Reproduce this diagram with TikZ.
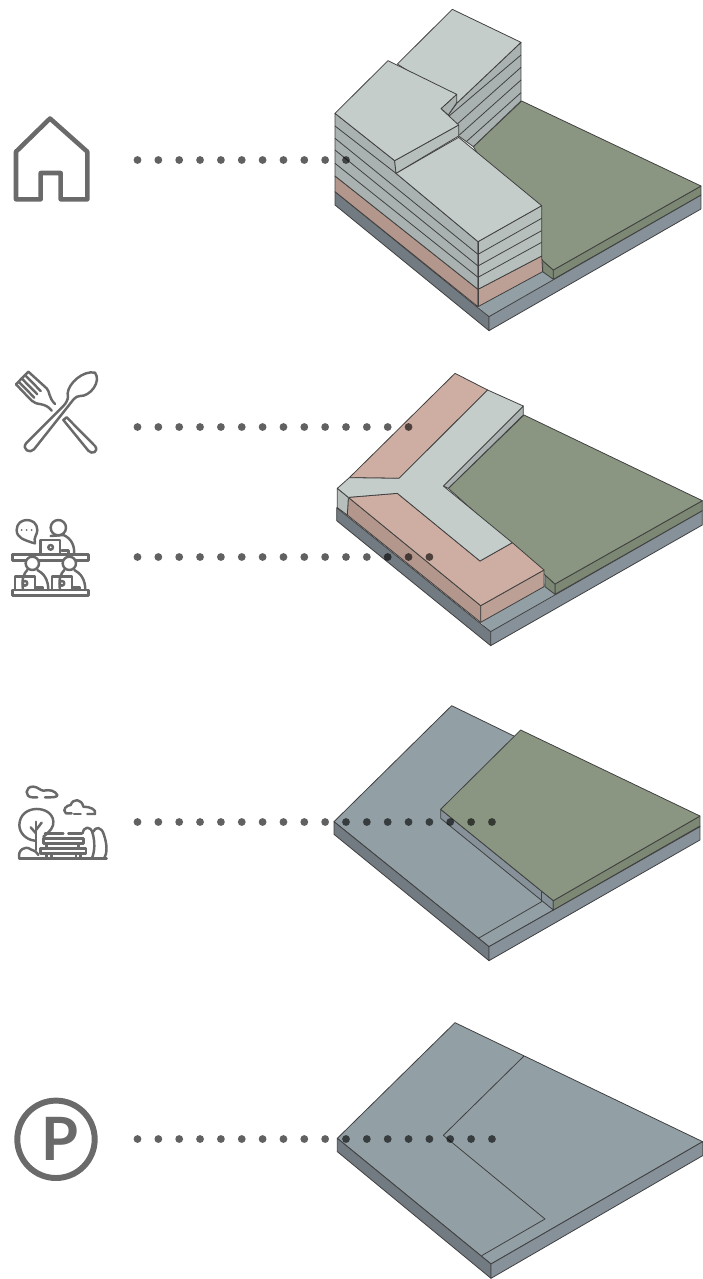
\documentclass[tikz,border=0pt]{standalone}
\usepackage{fontspec}
\setsansfont{Lato}
\definecolor{slabtop}{HTML}{C5CDCB}
\definecolor{slableft}{HTML}{A9B2B0}
\definecolor{slabright}{HTML}{B7BFBC}
\definecolor{shoptop}{HTML}{CEADA2}
\definecolor{shopleft}{HTML}{B4978C}
\definecolor{shopright}{HTML}{BC9F95}
\definecolor{parktop}{HTML}{8A9681}
\definecolor{parkside}{HTML}{7C8873}
\definecolor{basetop}{HTML}{929FA5}
\definecolor{baseleft}{HTML}{727A82}
\definecolor{baseright}{HTML}{86919A}
\definecolor{iconline}{HTML}{6A6A6A}
\tikzset{
    zoomed/.style={x=0.02cm/3,y=-0.02cm/3},
    edge/.style={draw=black!75,line width=0.45pt,line join=round},
    icon/.style={draw=iconline,line width=1.4pt,line join=round,line cap=round},
}
\begin{document}
\begin{tikzpicture}[x=0.02cm,y=-0.02cm]
    \useasboundingbox (0,0) rectangle (703,1279);

    % Bloque completo: base, parque, torre y pisos apilados.
    \begin{scope}[shift={(320,0)},zoomed]
        \fill[basetop] (474,920) -- (507,950) -- (700,838) -- (668,790) -- cycle;
        \draw[edge,fill=baseleft] (45,575) -- (507,950) -- (507,992) -- (45,615) -- cycle;
        \draw[edge,fill=baseright] (507,950) -- (1143,585) -- (1143,627) -- (507,992) -- cycle;
        \draw[edge,fill=parkside] (700,810) -- (1143,558) -- (1143,585) -- (700,838) -- cycle;
        \draw[edge,fill=parkside] (668,782) -- (700,810) -- (700,838) -- (668,815) -- cycle;
        \draw[edge,fill=parktop] (605,303) -- (1143,558) -- (700,810) -- (668,782) -- (460,440) -- cycle;
        % torre trasera
        \draw[edge,fill=slableft] (603,127) -- (603,303) -- (460,440) -- (416,408) -- (385,345) -- (412,308) -- cycle;
        \draw[edge] (603,165) -- (385,350);
        \draw[edge] (603,202) -- (412,372);
        \draw[edge] (603,240) -- (418,405);
        \draw[edge] (603,278) -- (440,424);
        \draw[edge,fill=slabtop] (397,28) -- (603,127) -- (412,308) -- (232,192) -- cycle;
        % pisos delanteros
        \draw[edge,fill=shopleft] (45,528) -- (474,868) -- (474,920) -- (45,575) -- cycle;
        \draw[edge,fill=shopright] (474,868) -- (665,768) -- (668,815) -- (474,920) -- cycle;
        \draw[edge,fill=slableft] (45,340) -- (224,482) -- (228,520) -- (474,725) -- (474,868) -- (45,528) -- cycle;
        \draw[edge,fill=slabright] (474,725) -- (665,617) -- (665,768) -- (474,868) -- cycle;
        \draw[edge] (45,378) -- (228,520);
        \foreach \ya/\yb/\yc in {415/763/655,450/798/692,490/832/727}{
            \draw[edge] (45,\ya) -- (474,\yb) -- (665,\yc);
        }
        \draw[edge] (474,725) -- (474,920);
        \draw[edge,fill=slabtop] (416,412) -- (665,617) -- (474,725) -- (228,520) -- cycle;
        % bloque superior con su muesca
        \draw[edge,fill=slabright] (224,482) -- (416,375) -- (416,408) -- (228,520) -- cycle;
        \draw[edge,fill=slableft] (363,326) -- (410,283) -- (410,308) -- (385,345) -- cycle;
        \draw[edge,fill=slabtop] (204,182) -- (410,283) -- (363,326) -- (416,375) -- (224,482) -- (45,340) -- cycle;
    \end{scope}

    % Planta baja: comercio y circulacion en Y.
    \begin{scope}[shift={(320,360)},zoomed]
        \fill[basetop] (482,787) -- (512,815) -- (705,703) -- (672,670) -- cycle;
        \draw[edge,fill=baseleft] (50,443) -- (512,815) -- (512,857) -- (50,482) -- cycle;
        \draw[edge,fill=baseright] (512,815) -- (1147,452) -- (1147,495) -- (512,857) -- cycle;
        \draw[edge,fill=parkside] (705,672) -- (1147,422) -- (1147,452) -- (705,703) -- cycle;
        \draw[edge,fill=parkside] (675,645) -- (705,672) -- (705,703) -- (675,680) -- cycle;
        \draw[edge,fill=parktop] (612,165) -- (1147,422) -- (705,672) -- (675,645) -- (385,385) -- cycle;
        \draw[edge,fill=slableft] (610,138) -- (610,165) -- (385,385) -- (370,378) -- cycle;
        \draw[edge,fill=shopleft] (85,412) -- (482,737) -- (482,787) -- (82,465) -- cycle;
        \draw[edge,fill=shopright] (482,737) -- (672,630) -- (672,680) -- (482,787) -- cycle;
        \draw[edge,fill=slabright] (52,385) -- (85,412) -- (82,465) -- (52,443) -- cycle;
        \draw[edge,fill=shoptop] (405,40) -- (503,90) -- (237,355) -- (88,353) -- cycle;
        \draw[edge,fill=shoptop] (85,412) -- (232,400) -- (480,603) -- (577,548) -- (672,630) -- (482,737) -- cycle;
        \draw[edge,fill=slabtop] (503,90) -- (610,138) -- (370,378) -- (577,548) -- (480,603) -- (232,400) -- (85,412) -- (52,385) -- (88,353) -- (237,355) -- cycle;
    \end{scope}

    % Parque sobre la losa.
    \begin{scope}[shift={(320,690)},zoomed]
        \draw[edge,fill=basetop] (395,47) -- (1140,410) -- (507,770) -- (42,395) -- cycle;
        \draw[edge,fill=baseleft] (42,395) -- (507,770) -- (507,812) -- (42,433) -- cycle;
        \draw[edge,fill=baseright] (507,770) -- (1140,410) -- (1140,450) -- (507,812) -- cycle;
        \draw[edge] (475,745) -- (665,635);
        \draw[edge,fill=baseright] (362,358) -- (700,632) -- (700,660) -- (362,385) -- cycle;
        \draw[edge] (665,605) -- (665,635);
        \draw[edge,fill=parkside] (700,632) -- (1140,378) -- (1140,408) -- (700,660) -- cycle;
        \draw[edge,fill=parktop] (602,120) -- (1140,378) -- (700,632) -- (362,358) -- cycle;
    \end{scope}

    % Losa de estacionamiento.
    \begin{scope}[shift={(320,1010)},zoomed]
        \draw[edge,fill=basetop] (405,38) -- (1148,395) -- (513,762) -- (52,385) -- cycle;
        \draw[edge,fill=baseleft] (52,385) -- (513,762) -- (513,805) -- (52,425) -- cycle;
        \draw[edge,fill=baseright] (513,762) -- (1148,395) -- (1148,437) -- (513,805) -- cycle;
        \draw[edge] (612,138) -- (370,376) -- (675,627) -- (485,737);
    \end{scope}

    % Lineas de puntos.
    \foreach \rowy/\lastdot in {160/10,427/13,557/14,822/17,1139/17}{
        \foreach \n in {0,...,\lastdot}{
            \fill[black,opacity=0.62] ({137.5+20.85*\n},\rowy) circle (3.9);
        }
    }

    % Casa
    \draw[draw=iconline,line width=2.6pt,line join=round] (50,118.5) -- (87.3,151.7) -- (87.3,199.3)
        -- (60.7,199.3) -- (60.7,173) -- (40.7,173) -- (40.7,199.3) -- (16,199.3) -- (16,151.7) -- cycle;

    % Cubiertos
    \begin{scope}[shift={(0,360)},zoomed]
        \draw[icon] (285,38) .. controls (305,65) and (270,110) .. (240,108)
            .. controls (225,108) and (218,122) .. (205,138) -- (102,268)
            .. controls (90,282) and (65,268) .. (78,250) -- (190,138)
            .. controls (205,122) and (205,112) .. (203,100)
            .. controls (205,70) and (250,30) .. (285,38) -- cycle;
        \draw[icon] (190,180) -- (200,172) -- (285,258)
            .. controls (298,275) and (275,285) .. (265,272) -- cycle;
        \draw[icon] (85,35) -- (140,85) .. controls (150,95) and (145,112) .. (165,132);
        \draw[icon] (48,73) -- (95,122) .. controls (110,138) and (135,125) .. (155,152);
        \draw[icon] (85,35) -- (48,73);
        \draw[icon] (75,45) -- (122,93);
        \draw[icon] (65,55) -- (112,103);
        \draw[icon] (56,65) -- (103,113);
    \end{scope}

    % Coworking
    \begin{scope}[shift={(0,360)},zoomed]
        \draw[icon] (97,548) .. controls (75,540) and (50,535) .. (50,510)
            .. controls (50,470) and (112,470) .. (112,510)
            .. controls (112,525) and (100,530) .. (105,550) -- cycle;
        \foreach \dotx in {65,80,95}{
            \fill[iconline] (\dotx,510) circle (3);
        }
        \draw[icon] (175,503) circle (23);
        \draw[icon] (152,528) -- (190,525) .. controls (215,535) and (225,560) .. (222,583);
        \draw[icon] (122,583) -- (122,540) -- (180,540) -- (180,583);
        \draw[icon] (152,562) circle (7);
        \draw[icon] (185,572) -- (205,572) -- (205,583);
        \draw[icon] (37,584) rectangle (266,602);
        \foreach \cx in {97,208}{
            \draw[icon,fill=white] (\cx,610) circle (20);
            \draw[icon] ({\cx-28},690) .. controls ({\cx-33},655) and ({\cx-25},640) .. ({\cx-15},630);
            \draw[icon] ({\cx+15},630) .. controls ({\cx+35},640) and ({\cx+48},660) .. ({\cx+48},690);
            \draw[icon] ({\cx-52},690) -- ({\cx-52},650) -- ({\cx+8},650) -- ({\cx+8},690);
            \draw[icon] ({\cx-22},670) circle (7);
            \draw[icon] ({\cx+12},682) -- ({\cx+32},682) -- ({\cx+32},690);
        }
        \draw[icon] (37,690) rectangle (266,706);
    \end{scope}

    % Parque
    \begin{scope}[shift={(0,770)},zoomed]
        \draw[icon] (112,82) -- (98,82) .. controls (72,82) and (75,48) .. (100,50)
            .. controls (112,50) and (122,62) .. (130,62) .. controls (150,58) and (165,62) .. (172,75) .. controls (172,82) and (160,82) .. (135,82);
        \draw[icon] (215,130) -- (198,130) .. controls (185,120) and (200,105) .. (212,105)
            .. controls (218,85) and (245,85) .. (250,110) .. controls (270,110) and (290,118) .. (285,132) -- (262,132);
        \draw[icon] (242,132) -- (222,132);
        \draw[icon] (130,200) .. controls (150,185) and (162,170) .. (160,155)
            .. controls (158,105) and (60,100) .. (58,165)
            .. controls (58,190) and (80,210) .. (105,212);
        \draw[icon] (108,240) -- (108,155);
        \draw[icon] (108,190) -- (92,172);
        \draw[icon] (108,180) -- (125,158);
        \draw[icon] (135,190) -- (190,190);
        \draw[icon] (205,190) -- (245,190);
        \draw[icon] (130,205) rectangle (250,220);
        \draw[icon] (122,236) rectangle (258,250);
        \draw[icon] (140,220) -- (140,236);
        \draw[icon] (235,220) -- (235,236);
        \draw[icon] (140,250) -- (140,266);
        \draw[icon] (155,250) -- (155,266);
        \draw[icon] (228,250) -- (228,266);
        \draw[icon] (242,250) -- (242,266);
        \draw[icon] (58,266) -- (320,266);
        \draw[icon] (58,266) .. controls (52,240) and (75,225) .. (92,238) .. controls (100,240) and (110,245) .. (115,255);
        \draw[icon] (248,190) .. controls (250,170) and (272,165) .. (278,190) .. controls (285,215) and (285,245) .. (275,266);
        \draw[icon] (280,185) .. controls (285,170) and (305,168) .. (312,195) .. controls (322,225) and (322,250) .. (312,266);
    \end{scope}

    % Estacionamiento
    \draw[draw=iconline,line width=3.4pt] (56,1139.3) circle (38.7);
    \node[text=iconline,font=\sffamily\bfseries\fontsize{34}{34}\selectfont,inner sep=0pt] (parksign) at (59.5,1139) {P};
\end{tikzpicture}
\end{document}
